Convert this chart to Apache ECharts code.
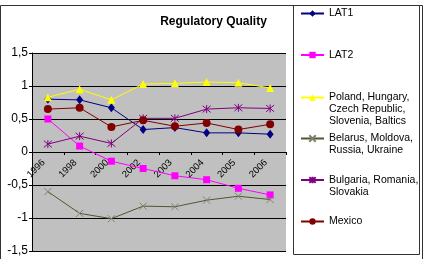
<!DOCTYPE html>
<html>
<head>
<meta charset="utf-8">
<script src="https://cdn.jsdelivr.net/npm/echarts@6/dist/echarts.min.js"></script>
<style>
  html, body { margin: 0; padding: 0; background: #fff; }
  #chart { width: 427px; height: 259px; }
</style>
</head>
<body>
<div id="chart"></div>
<script>
// data
const years = ['1996', '1998', '2000', '2002', '2003', '2004', '2005', '2006']
const yTicks = [-1.5, 1.5, 0.5] // min, max, step
const lat1 = [0.80, 0.79, 0.67, 0.34, 0.37, 0.29, 0.29, 0.27]
const lat2 = [0.50, 0.09, -0.14, -0.25, -0.36, -0.42, -0.55, -0.65]
const cee = [0.83, 0.95, 0.79, 1.03, 1.04, 1.06, 1.05, 0.97]
const cis = [-0.60, -0.93, -1.01, -0.82, -0.83, -0.73, -0.67, -0.72]
const see = [0.12, 0.24, 0.13, 0.51, 0.51, 0.65, 0.67, 0.66]
const mexico = [0.65, 0.67, 0.38, 0.48, 0.39, 0.44, 0.34, 0.42]

const names = [
  'LAT1',
  'LAT2',
  'Poland, Hungary,\nCzech Republic,\nSlovenia, Baltics',
  'Belarus, Moldova,\nRussia, Ukraine',
  'Bulgaria, Romania,\nSlovakia',
  'Mexico'
]

const chart = echarts.init(document.getElementById('chart'), null, { renderer: 'canvas' })
const font = 'Arial, "Liberation Sans", sans-serif'
const crossPath = 'path://M0,0L10,10M10,0L0,10'
const starPath = 'path://M0,0L10,10M10,0L0,10M5,-1L5,11'

function line(name, data, color, symbol, size, markColor, hollow) {
  return {
    name: name,
    type: 'line',
    data: data,
    symbol: symbol,
    symbolSize: size,
    showAllSymbol: true,
    animation: false,
    lineStyle: { color: color, width: 1 },
    itemStyle: hollow
      ? { color: 'rgba(0,0,0,0)', borderColor: markColor, borderWidth: 1 }
      : { color: markColor, borderWidth: 0 },
    emphasis: { disabled: true }
  }
}

// one legend per entry so each can sit where the original puts it.
// the text block is centred on the icon, so pad it with blank lines on top
// to get the first line level with the icon like Excel does
const lh = 12
const legendCenters = [13.5, 55, 97.5, 138.5, 180, 221.5]
const legends = names.map(function (n, i) {
  const count = n.split('\n').length
  return {
    data: [n],
    left: 300,
    top: legendCenters[i] - (2 * count - 1) * lh / 2,
    padding: 0,
    itemWidth: 23,
    itemHeight: 8,
    itemGap: 0,
    selectedMode: false,
    formatter: function (name) { return '\n'.repeat(count - 1) + name },
    textStyle: {
      fontFamily: font,
      fontSize: 10.5,
      color: '#000',
      lineHeight: lh
    }
  }
})

const option = {
  backgroundColor: '#fff',
  title: {
    text: 'Regulatory Quality',
    left: 'center',
    top: 16,
    padding: 0,
    textStyle: { fontFamily: font, fontSize: 12, fontWeight: 'bold', color: '#000' }
  },
  legend: legends,
  graphic: [
    { type: 'rect', silent: true, shape: { x: 0.5, y: 5.5, width: 422, height: 270 },
      style: { fill: 'none', stroke: '#333', lineWidth: 1 } },
    { type: 'rect', silent: true, shape: { x: 293.5, y: 5.5, width: 126, height: 249 },
      style: { fill: 'none', stroke: '#333', lineWidth: 1 } }
  ],
  grid: {
    left: 32,
    right: 141,
    top: 53,
    bottom: 8,
    containLabel: false,
    outerBoundsMode: 'none',
    show: true,
    backgroundColor: '#c0c0c0',
    borderWidth: 0
  },
  xAxis: {
    type: 'category',
    data: years,
    boundaryGap: true,
    position: 'bottom',
    offset: -99, // sits on the zero line (grid is 198px tall)
    z: 0,
    axisLine: { onZero: false, lineStyle: { color: '#000', width: 1 } },
    axisTick: { show: true, length: 3, lineStyle: { color: '#000' } },
    axisLabel: {
      rotate: 45,
      margin: 5,
      padding: [0, 6, 0, 0],
      fontFamily: font,
      fontSize: 9.5,
      color: '#000'
    },
    splitLine: { show: false }
  },
  yAxis: {
    type: 'value',
    min: yTicks[0],
    max: yTicks[1],
    interval: yTicks[2],
    axisLine: { show: true, lineStyle: { color: '#000', width: 1 } },
    axisTick: { show: true, length: 3, lineStyle: { color: '#000' } },
    axisLabel: {
      margin: 4,
      fontFamily: font,
      fontSize: 12,
      color: '#000',
      formatter: function (v) { return String(v).replace('.', ',') }
    },
    splitLine: { show: true, lineStyle: { color: '#000', width: 1 } }
  },
  series: [
    line(names[0], lat1, '#000080', 'diamond', [7, 9], '#000080'),
    line(names[1], lat2, '#ff00ff', 'rect', 7, '#ff00ff'),
    line(names[2], cee, '#ffff00', 'triangle', 8, '#ffff00'),
    line(names[3], cis, '#55552f', crossPath, 7, '#808070', true),
    line(names[4], see, '#800080', starPath, 8, '#800080', true),
    line(names[5], mexico, '#800000', 'circle', 8, '#800000')
  ]
}

chart.setOption(option)
</script>
</body>
</html>
